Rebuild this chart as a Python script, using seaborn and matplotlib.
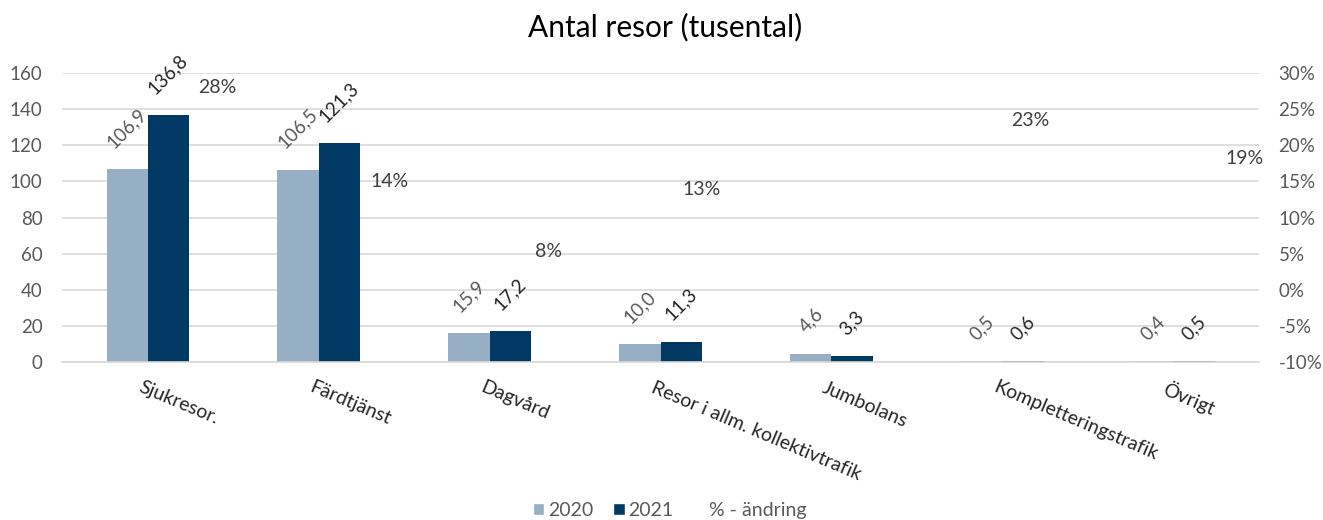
import numpy as np
import pandas as pd
import matplotlib.pyplot as plt
import seaborn as sns
from matplotlib.patches import Patch
from matplotlib.lines import Line2D
from matplotlib.transforms import ScaledTranslation

# === Data ===
categories = ["Sjukresor.", "Färdtjänst", "Dagvård", "Resor i allm. kollektivtrafik",
              "Jumbolans", "Kompletteringstrafik", "Övrigt"]
resor_2020 = [106.9, 106.5, 15.9, 10.0, 4.6, 0.5, 0.4]
resor_2021 = [136.8, 121.3, 17.2, 11.3, 3.3, 0.6, 0.5]
pct_change = [28, 14, 8, 13, -28, 23, 19]
years = ["2020", "2021"]

# label nudges (px, right / down) for the % labels, as placed in the original
pct_offsets = [(70, 0), (71, -7), (59, 20), (41, -6), (70, 0), (28, -3), (71, 6)]

df = pd.DataFrame({
    "kategori": categories * 2,
    "år": [years[0]] * len(categories) + [years[1]] * len(categories),
    "resor": resor_2020 + resor_2021,
})

# === Style ===
sns.set_theme(style="white")
plt.rcParams["font.family"] = ["Lato", "DejaVu Sans"]
GRID = "#d9d9d9"
TXT = "#595959"
colors = ["#97afc5", "#003963"]

fig = plt.figure(figsize=(13.23, 5.20), dpi=100)
ax = fig.add_axes([0.0469, 0.3038, 0.9047, 0.5558])

sns.barplot(data=df, x="kategori", y="resor", hue="år", palette=colors,
            width=0.48, gap=0, saturation=1, linewidth=0, legend=False, ax=ax)

ax.set_xlim(-0.5, len(categories) - 0.5)
ax.set_ylim(0, 160)
ax.set_yticks(range(0, 161, 20))
ax.yaxis.grid(True, color=GRID, lw=1.2)
ax.set_axisbelow(True)
ax.set_xlabel("")
ax.set_ylabel("")
for s in ["top", "left", "right"]:
    ax.spines[s].set_visible(False)
ax.spines["bottom"].set_color(GRID)
ax.spines["bottom"].set_linewidth(1.2)
ax.tick_params(axis="y", length=0, pad=14, labelsize=13.5, labelcolor=TXT)

# category labels, sloping down
ax.tick_params(axis="x", which="major", length=0, pad=12)
ax.set_xticks(range(len(categories)))
ax.set_xticklabels(categories, rotation=-23, ha="left", va="top",
                   rotation_mode="anchor", fontsize=14, color="#262626")
shift = ScaledTranslation(-5 / 100, 0, fig.dpi_scale_trans)
for lab in ax.get_xticklabels():
    lab.set_transform(lab.get_transform() + shift)
ax.set_xticks(np.arange(-0.5, len(categories), 1), minor=True)
ax.tick_params(axis="x", which="minor", length=8, width=1.2, color=GRID)

# bar value labels
label_colors = [TXT, "#262626"]
for container, lc in zip(ax.containers, label_colors):
    for bar in container:
        h = bar.get_height()
        ax.annotate(f"{h:.1f}".replace(".", ","),
                    (bar.get_x() + bar.get_width() / 2, h),
                    xytext=(0, 13), textcoords="offset points",
                    rotation=45, ha="center", va="bottom",
                    fontsize=13.5, color=lc)

# secondary axis: % change (no visible line, only labels)
ax2 = ax.twinx()
ax2.set_ylim(-10, 30)
ax2.set_yticks(range(-10, 31, 5))
ax2.set_yticklabels([f"{v}%" for v in range(-10, 31, 5)])
ax2.tick_params(axis="y", length=0, pad=14, labelsize=13.5, labelcolor=TXT)
for s in ax2.spines.values():
    s.set_visible(False)
ax2.plot(range(len(categories)), pct_change, linestyle="none")
for i, (p, (dx, dy)) in enumerate(zip(pct_change, pct_offsets)):
    ax2.annotate(f"{p}%", (i, p), xytext=(dx * 0.72, -dy * 0.72),
                 textcoords="offset points", ha="center", va="center",
                 fontsize=14, color="#404040", annotation_clip=True)

fig.text(0.503, 0.948, "Antal resor (tusental)", ha="center", va="center",
         fontsize=21.5, color="#000000")

handles = [Patch(facecolor=colors[0]), Patch(facecolor=colors[1]),
           Line2D([], [], linestyle="none")]
fig.legend(handles, years + ["% - ändring"], loc="center",
           bbox_to_anchor=(0.506, 0.019), ncol=3, frameon=False,
           fontsize=14, handlelength=0.6, handleheight=0.6,
           handletextpad=0.2, columnspacing=1.0, labelcolor=TXT)

fig.savefig("out.png", dpi=100)
